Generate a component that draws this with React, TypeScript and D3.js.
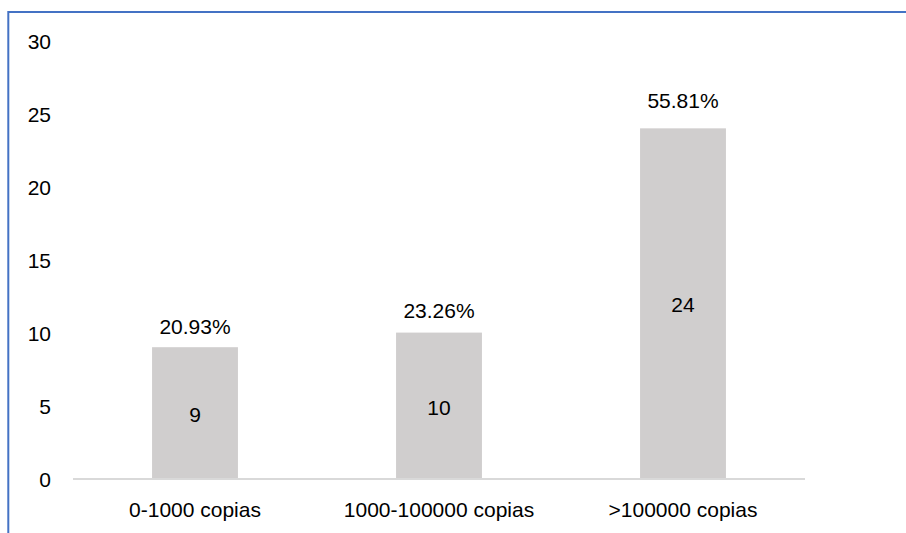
import React from "react";
import * as d3 from "d3";

// Number of works per circulation bracket
const categories = ["0-1000 copias", "1000-100000 copias", ">100000 copias"];
const counts = [9, 10, 24];
const yTicks = [0, 5, 10, 15, 20, 25, 30];

// Vertical gap (px) between each share label and the top of its bar
const shareLabelGap = [13, 14.5, 20];

const W = 906;
const H = 533;
const FONT = "'Liberation Sans', Arial, sans-serif";

export default function App() {
  const x = d3.scaleBand<string>().domain(categories).range([73, 805]).padding(0);
  const y = d3.scaleLinear().domain([0, 30]).range([478.5, 40.8]);
  const barW = x.bandwidth() * 0.352;
  const total = d3.sum(counts);
  const pct = d3.format(".2%");

  return (
    <div style={{ position: "fixed", left: 0, top: 0 }}>
      <svg width={W} height={H} style={{ display: "block", background: "#fff" }}>
        {/* chart frame (top and left edges fall inside the view) */}
        <path d={`M8.3,${H}V12H${W}`} fill="none" stroke="#4472c4" strokeWidth={2} />

        {/* y-axis labels */}
        {yTicks.map((t) => (
          <text
            key={t}
            x={51}
            y={y(t) + 1}
            textAnchor="end"
            dominantBaseline="central"
            fontFamily={FONT}
            fontSize={21}
            fill="#000"
          >
            {t}
          </text>
        ))}

        {/* bars */}
        {counts.map((v, i) => {
          const cx = (x(categories[i]) as number) + x.bandwidth() / 2;
          return (
            <g key={categories[i]}>
              <rect x={cx - barW / 2} y={y(v)} width={barW} height={y(0) - y(v)} fill="#d0cece" />
              <text
                x={cx}
                y={(y(v) + y(0)) / 2 + 1.5}
                textAnchor="middle"
                dominantBaseline="central"
                fontFamily={FONT}
                fontSize={21}
                fill="#000"
              >
                {v}
              </text>
              <text
                x={cx}
                y={y(v) - shareLabelGap[i]}
                textAnchor="middle"
                fontFamily={FONT}
                fontSize={21}
                fill="#000"
              >
                {pct(v / total)}
              </text>
              <text
                x={cx}
                y={516.7}
                textAnchor="middle"
                fontFamily={FONT}
                fontSize={21}
                fill="#000"
              >
                {categories[i]}
              </text>
            </g>
          );
        })}

        {/* category axis line */}
        <line x1={73} x2={805} y1={y(0) + 0.4} y2={y(0) + 0.4} stroke="#d9d9d9" strokeWidth={2} />
      </svg>
    </div>
  );
}
